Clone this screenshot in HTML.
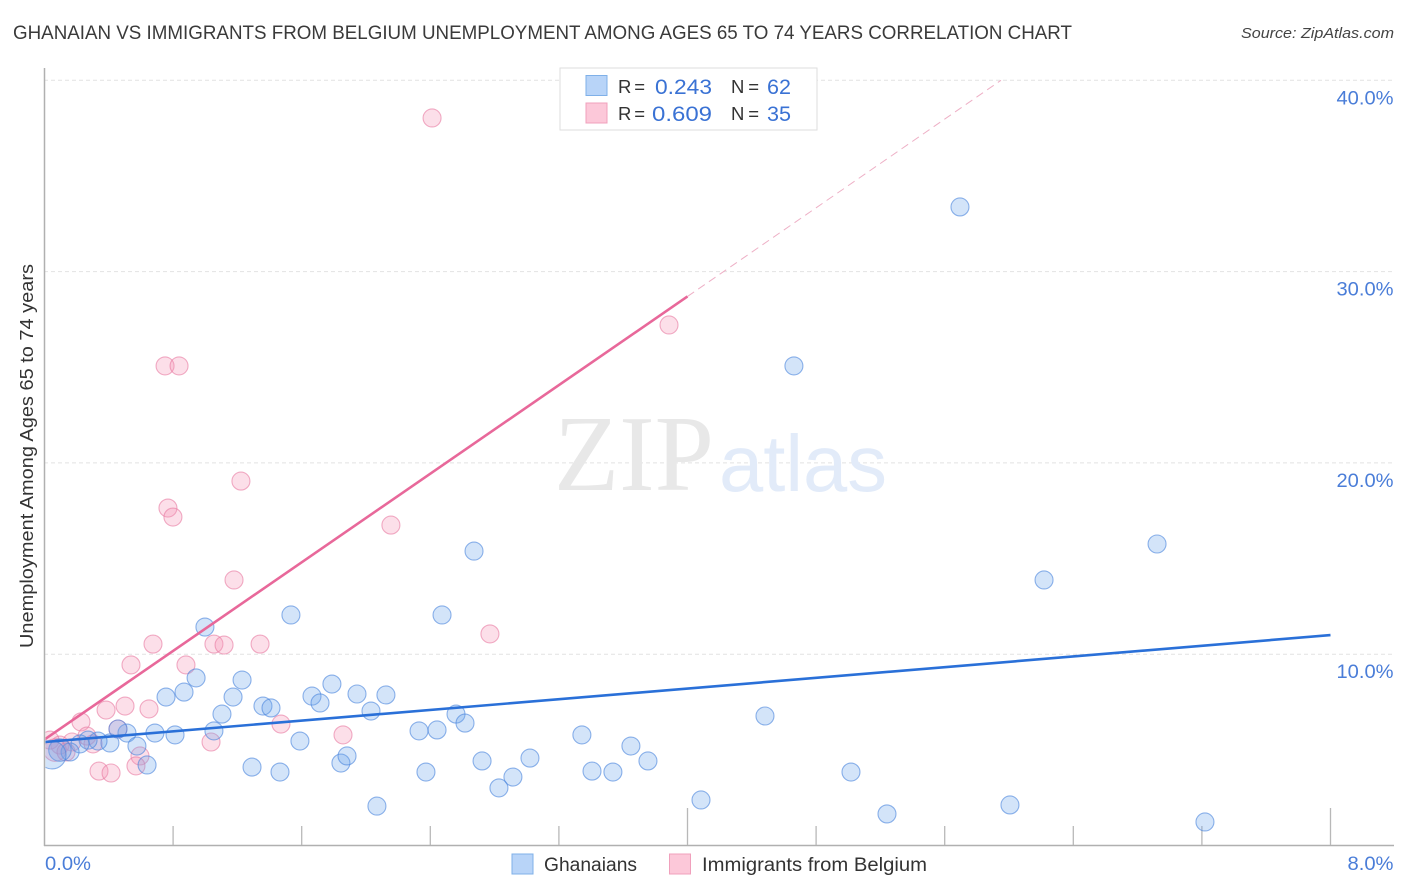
<!DOCTYPE html>
<html lang="en">
<head>
<meta charset="utf-8">
<title>Ghanaian vs Immigrants from Belgium Unemployment Correlation Chart</title>
<style>
html,body{margin:0;padding:0;background:#fff;width:1406px;height:892px;overflow:hidden}
svg{display:block;font-family:"Liberation Sans",sans-serif}
</style>
</head>
<body>
<svg id="chart" width="1406" height="892" viewBox="0 0 1406 892" xmlns="http://www.w3.org/2000/svg">
  <defs>
    <clipPath id="plot-clip"><rect x="45.5" y="60" width="1350" height="785"/></clipPath>
  </defs>
  <rect width="1406" height="892" fill="#fff"/>
  <text x="13" y="39" font-size="19" fill="#3a3a3a" textLength="1059" lengthAdjust="spacingAndGlyphs">GHANAIAN VS IMMIGRANTS FROM BELGIUM UNEMPLOYMENT AMONG AGES 65 TO 74 YEARS CORRELATION CHART</text>
  <text x="1394" y="38" font-size="15" font-style="italic" fill="#444" text-anchor="end" textLength="153" lengthAdjust="spacingAndGlyphs">Source: ZipAtlas.com</text>

  <g id="grid"></g>

  <g>
    <text x="554" y="490" font-family="'Liberation Serif',serif" font-size="108" fill="#e8e8e8" textLength="160" lengthAdjust="spacingAndGlyphs">ZIP</text>
    <text x="719" y="491" font-size="80" fill="#e2ebf9" textLength="168" lengthAdjust="spacingAndGlyphs">atlas</text>
  </g>

  <g id="axes">
    <line x1="44.5" y1="68" x2="44.5" y2="846" stroke="#b0b0b0" stroke-width="1.5"/>
    <line x1="44" y1="845.5" x2="1394" y2="845.5" stroke="#b0b0b0" stroke-width="1.5"/>
  </g>

  <g id="marks" clip-path="url(#plot-clip)"></g>

  <text transform="translate(33,456) rotate(-90)" font-size="18.5" fill="#333" text-anchor="middle" textLength="384" lengthAdjust="spacingAndGlyphs">Unemployment Among Ages 65 to 74 years</text>

  <g>
    <rect x="560" y="68" width="257" height="62" fill="#fff" stroke="#dedede" stroke-width="1"/>
    <rect x="586" y="75.5" width="21" height="20" fill="#b8d4f8" stroke="#7fb0e8" stroke-width="1"/>
    <rect x="586" y="103" width="21" height="20" fill="#fcc8d9" stroke="#f0a0bc" stroke-width="1"/>
    <text x="618" y="93" font-size="18.5" fill="#333" textLength="27" lengthAdjust="spacing">R =</text>
    <text x="655" y="94" font-size="21" fill="#3a72d4" textLength="57" lengthAdjust="spacingAndGlyphs">0.243</text>
    <text x="731" y="93" font-size="18.5" fill="#333" textLength="28" lengthAdjust="spacing">N =</text>
    <text x="767" y="94" font-size="21" fill="#3a72d4" textLength="24" lengthAdjust="spacingAndGlyphs">62</text>
    <text x="618" y="120" font-size="18.5" fill="#333" textLength="27" lengthAdjust="spacing">R =</text>
    <text x="652" y="121" font-size="21" fill="#3a72d4" textLength="60" lengthAdjust="spacingAndGlyphs">0.609</text>
    <text x="731" y="120" font-size="18.5" fill="#333" textLength="28" lengthAdjust="spacing">N =</text>
    <text x="767" y="121" font-size="21" fill="#3a72d4" textLength="24" lengthAdjust="spacingAndGlyphs">35</text>
  </g>

  <g>
    <g>
      <rect x="512" y="854" width="21" height="20" fill="#b8d4f8" stroke="#7fb0e8" stroke-width="1"/>
      <text x="544" y="871" font-size="19" fill="#333" textLength="93" lengthAdjust="spacingAndGlyphs">Ghanaians</text>
    </g>
    <g>
      <rect x="669.5" y="854" width="21" height="20" fill="#fcc8d9" stroke="#f0a0bc" stroke-width="1"/>
      <text x="702" y="871" font-size="19" fill="#333" textLength="225" lengthAdjust="spacingAndGlyphs">Immigrants from Belgium</text>
    </g>
  </g>
</svg>
<script>
// --- data ---
const yTickValues = [10, 20, 30, 40];
const yTickLabels = ['10.0%', '20.0%', '30.0%', '40.0%'];
const xTickValues = [0.8, 1.6, 2.4, 3.2, 4.0, 4.8, 5.6, 6.4, 7.2, 8.0];
const xMajorTicks = [4.0, 8.0];
const xEndValues = [0, 8];
const xEndLabels = ['0.0%', '8.0%'];

const blueX = [5.695,4.662,6.921,6.218,2.672,2.473,1.533,0.998,0.943,0.868,0.756,1.229,1.173,1.104,1.359,1.409,1.664,1.714,1.788,1.944,2.124,2.031,2.560,2.616,2.330,2.442,1.589,1.054,0.812,0.687,0.513,0.457,0.407,0.575,0.638,1.291,1.465,1.844,1.882,2.068,2.373,2.722,2.914,2.827,3.020,3.343,3.406,3.536,3.648,3.754,4.084,4.482,5.017,5.241,6.006,7.219,0.333,0.271,0.221,0.159,0.096,0.047];
const blueY = [33.38,25.07,15.76,13.88,15.39,12.05,12.05,11.42,8.76,8.02,7.76,8.65,7.76,6.87,7.29,7.19,7.81,7.45,8.44,7.92,7.87,7.03,6.87,6.40,5.99,6.04,5.46,5.99,5.78,5.88,5.88,6.09,5.36,5.20,4.21,4.10,3.84,4.31,4.68,2.06,3.84,4.42,3.58,3.01,4.57,5.78,3.89,3.84,5.20,4.42,2.38,6.77,3.84,1.65,2.12,1.23,5.46,5.51,5.31,4.89,4.99,4.73];
const blueWeight = [1,1,1,1,1,1,1,1,1,1,1,1,1,1,1,1,1,1,1,1,1,1,1,1,1,1,1,1,1,1,1,1,1,1,1,1,1,1,1,1,1,1,1,1,1,1,1,1,1,1,1,1,1,1,1,1,1,1,1,1,1.25,1.55];

const pinkX = [2.411,3.885,0.750,0.837,1.222,0.768,0.799,2.155,1.179,2.771,0.675,1.054,1.117,1.341,0.538,0.880,0.227,0.383,0.501,0.650,1.857,1.471,1.036,0.264,0.302,0.339,0.414,0.594,0.569,0.171,0.096,0.034,0.065,0.134,0.457];
const pinkY = [38.03,27.21,25.07,25.07,19.05,17.64,17.17,16.75,13.88,11.06,10.53,10.53,10.48,10.53,9.44,9.44,6.46,7.08,7.29,7.14,5.78,6.35,5.41,5.72,5.31,3.89,3.79,4.68,4.16,5.41,5.25,5.51,4.99,4.89,6.09];
const pinkWeight = [1,1,1,1,1,1,1,1,1,1,1,1,1,1,1,1,1,1,1,1,1,1,1,1,1,1,1,1,1,1,1,1,1.25,1,1];

const blueFitX = [0, 8];
const blueFitY = [5.41, 11.0];
const pinkFitX = [0, 4.0];
const pinkFitY = [5.54, 28.7];
const pinkExtX = [4.0, 5.95];
const pinkExtY = [28.7, 40];

// --- axis functions ---
const xScale = v => 44.5 + v * 160.75;
const yScale = v => 845.5 - v * 19.13;
const NS = 'http://www.w3.org/2000/svg';
function make(tag, attrs, parent) {
  const el = document.createElementNS(NS, tag);
  for (const k in attrs) el.setAttribute(k, attrs[k]);
  parent.appendChild(el);
  return el;
}
const gridG = document.getElementById('grid');
const axesG = document.getElementById('axes');
const marksG = document.getElementById('marks');

yTickValues.forEach((v, i) => {
  const gl = make('line', {x1: 44, x2: 1393, y1: yScale(v), y2: yScale(v), stroke: '#e2e2e2', 'stroke-width': 1, 'stroke-dasharray': '4 3'}, gridG);
  
  
  const t = make('text', {x: 1393.5, y: yScale(v) + 24, 'font-size': 19.5, fill: '#4a7dd8', 'text-anchor': 'end', textLength: 57, lengthAdjust: 'spacingAndGlyphs'}, axesG);
  
  
  t.textContent = yTickLabels[i];
});

xTickValues.forEach(v => {
  const major = xMajorTicks.includes(v);
  const tick = make('line', {x1: xScale(v), x2: xScale(v), y1: major ? 808 : 826, y2: 845, stroke: '#b8b8b8', 'stroke-width': 1.3}, axesG);
  
  
});

xEndValues.forEach((v, i) => {
  const t = make('text', {x: i === 0 ? xScale(v) + 0.5 : xScale(v) + 63, y: 870, 'font-size': 19.5, fill: '#4a7dd8', 'text-anchor': i === 0 ? 'start' : 'end', textLength: 46, lengthAdjust: 'spacingAndGlyphs'}, axesG);
  
  
  t.textContent = xEndLabels[i];
});

pinkX.forEach((v, i) => {
  const c = make('circle', {cx: xScale(v), cy: yScale(pinkY[i]), r: 9 * pinkWeight[i], fill: 'rgba(246,150,182,0.30)', stroke: 'rgba(232,120,160,0.6)', 'stroke-width': 1.1}, marksG);
  
  
});
blueX.forEach((v, i) => {
  const c = make('circle', {cx: xScale(v), cy: yScale(blueY[i]), r: 9 * blueWeight[i], fill: 'rgba(110,165,235,0.30)', stroke: 'rgba(70,130,220,0.6)', 'stroke-width': 1.1}, marksG);
  
  
});

const pinkExt = make('line', {x1: xScale(pinkExtX[0]), y1: yScale(pinkExtY[0]), x2: xScale(pinkExtX[1]), y2: yScale(pinkExtY[1]), stroke: '#eeb0c6', 'stroke-width': 1, 'stroke-dasharray': '8 5'}, marksG);



const pinkFit = make('line', {x1: xScale(pinkFitX[0]), y1: yScale(pinkFitY[0]), x2: xScale(pinkFitX[1]), y2: yScale(pinkFitY[1]), stroke: '#e8689a', 'stroke-width': 2.6}, marksG);



const blueFit = make('line', {x1: xScale(blueFitX[0]), y1: yScale(blueFitY[0]), x2: xScale(blueFitX[1]), y2: yScale(blueFitY[1]), stroke: '#2a70d8', 'stroke-width': 2.6}, marksG);


</script>
</body>
</html>
